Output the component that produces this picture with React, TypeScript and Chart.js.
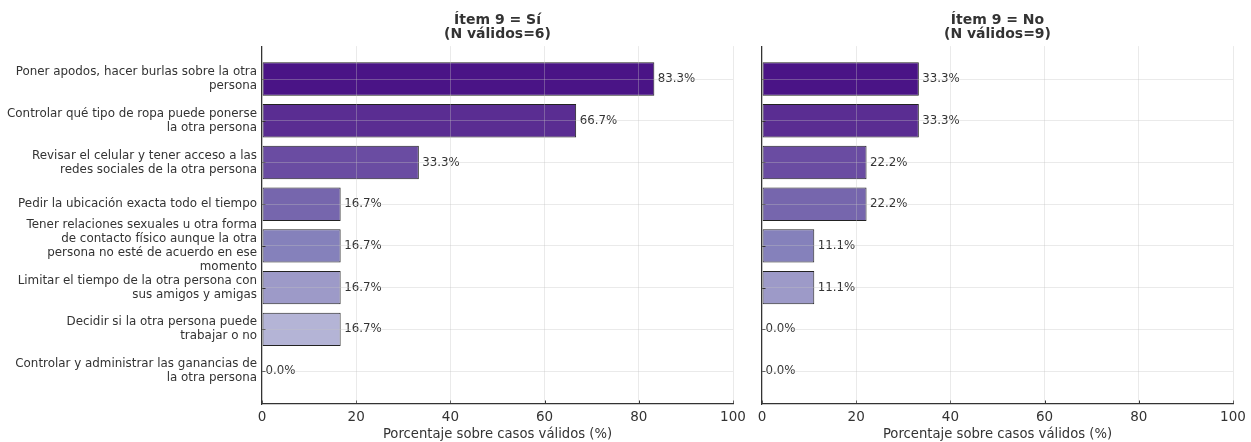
import React, { useEffect, useRef } from "react";
import { Chart, registerables } from "chart.js";

Chart.register(...registerables);

const categories: string[][] = [
  ["Poner apodos, hacer burlas sobre la otra", "persona"],
  ["Controlar qué tipo de ropa puede ponerse", "la otra persona"],
  ["Revisar el celular y tener acceso a las", "redes sociales de la otra persona"],
  ["Pedir la ubicación exacta todo el tiempo"],
  ["Tener relaciones sexuales u otra forma", "de contacto físico aunque la otra", "persona no esté de acuerdo en ese", "momento"],
  ["Limitar el tiempo de la otra persona con", "sus amigos y amigas"],
  ["Decidir si la otra persona puede", "trabajar o no"],
  ["Controlar y administrar las ganancias de", "la otra persona"],
];

const valuesSi: number[] = [83.3, 66.7, 33.3, 16.7, 16.7, 16.7, 16.7, 0.0];
const valuesNo: number[] = [33.3, 33.3, 22.2, 22.2, 11.1, 11.1, 0.0, 0.0];

const titleSi: string[] = ["Ítem 9 = Sí", "(N válidos=6)"];
const titleNo: string[] = ["Ítem 9 = No", "(N válidos=9)"];
const xTitle = "Porcentaje sobre casos válidos (%)";
const xTicks: number[] = [0, 20, 40, 60, 80, 100];

const barColors: string[] = [
  "#4a1486", "#5a2d92", "#6a4ca2", "#7666ad",
  "#8581bb", "#9d9ac8", "#b4b4d6", "#cbcbe3",
];

const FONT = "DejaVu Sans";
const TEXT = "#333333";

const overlayPlugin = {
  id: "overlay",
  afterDatasetsDraw(chart: any) {
    const ctx = chart.ctx;
    const xs = chart.scales.x;
    const ys = chart.scales.y;
    const area = chart.chartArea;
    ctx.save();
    // inward tick marks
    ctx.strokeStyle = "#333333";
    ctx.lineWidth = 1;
    xTicks.forEach((t) => {
      const px = Math.round(xs.getPixelForValue(t)) + 0.5;
      ctx.beginPath();
      ctx.moveTo(px, area.bottom);
      ctx.lineTo(px, area.bottom - 3.5);
      ctx.stroke();
    });
    categories.forEach((_, i) => {
      const py = Math.round(ys.getPixelForValue(i)) + 0.5;
      ctx.beginPath();
      ctx.moveTo(area.left, py);
      ctx.lineTo(area.left + 3.5, py);
      ctx.stroke();
    });
    // value labels
    const meta = chart.getDatasetMeta(0);
    const data = chart.data.datasets[0].data;
    ctx.fillStyle = TEXT;
    ctx.font = `11.8px "${FONT}"`;
    ctx.textBaseline = "middle";
    ctx.textAlign = "left";
    meta.data.forEach((bar: any, i: number) => {
      const v = data[i].x as number;
      const x = xs.getPixelForValue(v) + 3.5;
      ctx.fillText(`${v.toFixed(1)}%`, x, bar.y);
    });
    ctx.restore();
  },
};

function makeConfig(values: number[], title: string[], showLabels: boolean, yWidth: number, padRight: number): any {
  return {
    type: "bar",
    data: {
      datasets: [
        {
          data: values.map((v, i) => ({ x: v, y: i })),
          backgroundColor: barColors,
          borderColor: "#222222",
          borderWidth: 1,
          borderSkipped: false,
          barPercentage: 0.8,
          categoryPercentage: 1.0,
        },
      ],
    },
    options: {
      responsive: false,
      animation: false,
      indexAxis: "y",
      layout: { padding: { left: 0, right: padRight, top: 0, bottom: 0 } },
      plugins: {
        legend: { display: false },
        tooltip: { enabled: false },
        title: {
          display: true,
          text: title,
          fullSize: false,
          color: TEXT,
          font: { family: FONT, size: 14, weight: "bold", lineHeight: 1.05 },
          padding: { top: 12.8, bottom: 3.9 },
        },
      },
      scales: {
        x: {
          type: "linear",
          min: 0,
          max: 100,
          offset: false,
          afterFit: (s: any) => {
            s.height = 38;
            s.paddingLeft = 0;
            s.paddingRight = 0;
          },
          afterBuildTicks: (s: any) => { s.ticks = xTicks.map((v) => ({ value: v })); },
          ticks: {
            color: TEXT,
            padding: 5,
            autoSkip: false,
            maxRotation: 0,
            font: { family: FONT, size: 13.5 },
          },
          grid: { color: "rgba(195,195,195,0.35)", drawTicks: false, offset: false, z: 1 },
          border: { color: "#333333", width: 1.2, z: 2 },
          title: {
            display: true,
            text: xTitle,
            color: TEXT,
            font: { family: FONT, size: 13.2, lineHeight: 1.2 },
            padding: { top: 1, bottom: 0 },
          },
        },
        y: {
          type: "linear",
          reverse: true,
          min: -0.79,
          max: 7.79,
          offset: false,
          afterFit: (s: any) => {
            s.width = yWidth;
            s.paddingTop = 0;
            s.paddingBottom = 0;
          },
          afterBuildTicks: (s: any) => { s.ticks = categories.map((_, i) => ({ value: i })); },
          ticks: {
            display: showLabels,
            autoSkip: false,
            color: TEXT,
            padding: 5,
            font: { family: FONT, size: 11.9, lineHeight: 1.17 },
            callback: (v: any) => categories[Math.round(Number(v))] ?? "",
          },
          grid: { color: "rgba(195,195,195,0.35)", drawTicks: false, offset: false, z: 1 },
          border: { color: "#333333", width: 1.2, z: 2 },
        },
      },
    },
    plugins: [overlayPlugin],
  };
}

function Panel(props: { values: number[]; title: string[]; showLabels: boolean; yWidth: number; padRight: number; left: number; width: number }) {
  const ref = useRef<HTMLCanvasElement | null>(null);
  useEffect(() => {
    if (!ref.current) return;
    const chart = new Chart(ref.current, makeConfig(props.values, props.title, props.showLabels, props.yWidth, props.padRight));
    return () => chart.destroy();
  }, []);
  return (
    <div style={{ position: "absolute", left: props.left, top: 0, width: props.width, height: 442 }}>
      <canvas ref={ref} width={props.width} height={442} style={{ width: props.width, height: 442, display: "block" }} />
    </div>
  );
}

export default function App() {
  return (
    <div style={{ position: "fixed", left: 0, top: 0, width: 1251, height: 442, background: "#ffffff" }}>
      <Panel values={valuesSi} title={titleSi} showLabels={true} yWidth={262} padRight={15} left={0} width={748} />
      <Panel values={valuesNo} title={titleNo} showLabels={false} yWidth={14} padRight={18} left={748} width={503} />
    </div>
  );
}
